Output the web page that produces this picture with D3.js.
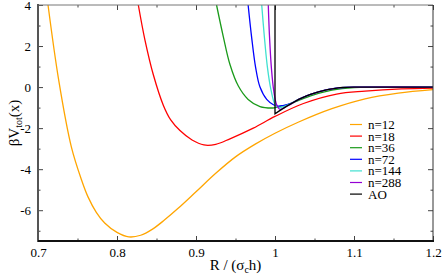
<!DOCTYPE html>
<html>
<head>
<meta charset="utf-8">
<script src="https://cdnjs.cloudflare.com/ajax/libs/d3/7.8.5/d3.min.js"></script>
<style>
  body { margin: 0; background: #fff; }
  svg { display: block; }
  svg text { font-family: "Liberation Serif", "Times New Roman", "DejaVu Serif", serif; fill: #000; }
  .tick text { font-size: 13px; }
  .label { font-size: 15px; }
  .legend text { font-size: 13px; }
</style>
</head>
<body>
<svg width="443" height="277"></svg>
<script>
// series: [R, beta V]
var n12 = [[0.7127,4],[0.7262,0.34],[0.7422,-2.91],[0.7549,-4.5],[0.7633,-5.35],[0.7738,-6.1],
  [0.7844,-6.62],[0.80,-7.08],[0.815,-7.30],[0.83,-7.22],[0.845,-6.92],[0.86,-6.48],[0.877,-5.92],
  [0.90,-5.1],[0.925,-4.2],[0.95,-3.4],[0.975,-2.78],[1.0,-2.25],[1.03,-1.7],[1.072,-1.05],
  [1.114,-0.57],[1.156,-0.29],[1.2,-0.12]];
var n18 = [[0.827,4],[0.8354,2.29],[0.846,0.6],[0.8586,-0.88],[0.868,-1.6],[0.8797,-2.12],
  [0.895,-2.58],[0.91,-2.82],[0.925,-2.79],[0.943,-2.52],[0.9725,-2.0],[1.0,-1.43],
  [1.036,-0.8],[1.078,-0.34],[1.114,-0.2],[1.16,-0.09],[1.2,-0.05]];
var n36 = [[0.926,4],[0.9346,2.45],[0.943,1.1],[0.9536,0.05],[0.966,-0.6],[0.981,-0.95],
  [0.996,-1.02],[1.0,-1.0],[1.01,-0.92],[1.02,-0.8],[1.03,-0.65],[1.04,-0.5],[1.05,-0.37],
  [1.06,-0.26],[1.072,-0.15],[1.085,-0.07],[1.1,-0.02],[1.12,0],[1.2,0]];
var n72 = [[0.966,4],[0.9705,2.4],[0.9755,0.95],[0.981,0.0],[0.9895,-0.6],[0.998,-0.86],
  [1.004,-0.93],[1.01,-0.9],[1.02,-0.79],[1.03,-0.6],[1.04,-0.43],[1.05,-0.29],[1.06,-0.18],
  [1.07,-0.1],[1.08,-0.04],[1.09,-0.01],[1.1,0],[1.2,0]];
var n144 = [[0.9832,4],[0.9862,2.6],[0.9903,1.0],[0.995,-0.15],[1.0,-0.85],[1.004,-0.99],
  [1.01,-0.96],[1.02,-0.81],[1.03,-0.6],[1.04,-0.43],[1.05,-0.29],[1.06,-0.18],[1.07,-0.1],
  [1.08,-0.04],[1.09,-0.01],[1.1,0],[1.2,0]];
var n288 = [[0.9915,4],[0.993,2.5],[0.9955,0.9],[0.9985,-0.2],[1.002,-0.85],[1.006,-1.08],
  [1.012,-1.0],[1.02,-0.83],[1.03,-0.6],[1.04,-0.43],[1.05,-0.29],[1.06,-0.18],[1.07,-0.1],
  [1.08,-0.04],[1.09,-0.01],[1.1,0],[1.2,0]];
var ao = [[1.0,4],[1.0,-1.3],[1.005,-1.17],[1.01,-1.05],[1.015,-0.93],[1.02,-0.82],[1.025,-0.71],
  [1.03,-0.6],[1.035,-0.51],[1.04,-0.43],[1.045,-0.36],[1.05,-0.29],[1.055,-0.23],[1.06,-0.18],
  [1.065,-0.14],[1.07,-0.1],[1.075,-0.07],[1.08,-0.04],[1.085,-0.02],[1.09,-0.01],[1.1,0],[1.2,0]];

var names  = ["n=12", "n=18", "n=36", "n=72", "n=144", "n=288", "AO"];
var colors = ["#ffa500", "#ff0000", "#1a9a1a", "#0000ff", "#40e0d0", "#9400d3", "#000000"];
var series = [n12, n18, n36, n72, n144, n288, ao];

var xTicks = [0.7, 0.8, 0.9, 1, 1.1, 1.2];
var yTicks = [-6, -4, -2, 0, 2, 4];

var svg = d3.select("svg");
var pL = 38, pR = 433, pT = 5, pB = 241;

var x = d3.scaleLinear().domain([0.7, 1.2]).range([pL, pR]);
var y = d3.scaleLinear().domain([-7.5, 4]).range([pB, pT]);

svg.append("clipPath").attr("id", "clip")
  .append("rect").attr("x", pL).attr("y", pT - 2)
  .attr("width", pR - pL).attr("height", pB - pT + 2);

// minor + major ticks, all pointing inward
function axes(g, axisFn, sc, major, minor, tr, fmt) {
  g.append("g").attr("transform", tr)
    .call(axisFn(sc).tickValues(minor).tickSize(-2.5).tickSizeOuter(0).tickFormat(""))
    .call(a => a.select(".domain").remove());
  g.append("g").attr("transform", tr)
    .call(axisFn(sc).tickValues(major).tickSize(-5).tickSizeOuter(0).tickPadding(7)
      .tickFormat(fmt || ""))
    .call(a => a.select(".domain").remove());
}
var xMinor = d3.range(0.75, 1.2, 0.1);
var yMinor = d3.range(-7, 4, 2);
var g = svg.append("g");
axes(g, d3.axisBottom, x, xTicks, xMinor, "translate(0," + pB + ")", d => d);
axes(g, d3.axisTop, x, xTicks, xMinor, "translate(0," + pT + ")");
axes(g, d3.axisLeft, y, yTicks, yMinor, "translate(" + pL + ",0)", d => d);
axes(g, d3.axisRight, y, yTicks, yMinor, "translate(" + pR + ",0)");
g.selectAll("g").attr("font-family", null);
g.selectAll(".tick line").attr("stroke", "#444");

var line = d3.line().x(d => x(d[0])).y(d => y(d[1])).curve(d3.curveCatmullRom.alpha(0.5));
var lineAO = d3.line().x(d => x(d[0])).y(d => y(d[1]));

svg.append("g").attr("clip-path", "url(#clip)")
  .selectAll("path").data(series).join("path")
  .attr("d", (d, i) => i == 6 ? lineAO(d) : line(d))
  .attr("fill", "none")
  .attr("stroke", (d, i) => colors[i])
  .attr("stroke-width", 1.3);

// frame
svg.append("line").attr("x1", pL).attr("x2", pR).attr("y1", pT).attr("y2", pT)
  .attr("stroke", "#777").attr("stroke-width", 1);
svg.append("line").attr("x1", pR).attr("x2", pR).attr("y1", pT).attr("y2", pB)
  .attr("stroke", "#333").attr("stroke-width", 1);
svg.append("line").attr("x1", pL).attr("x2", pL).attr("y1", pT - 1).attr("y2", pB + 1)
  .attr("stroke", "#555").attr("stroke-width", 2);
svg.append("line").attr("x1", pL).attr("x2", pR + 1).attr("y1", pB).attr("y2", pB)
  .attr("stroke", "#111").attr("stroke-width", 2);

// legend
var leg = svg.append("g").attr("class", "legend");
names.forEach(function (nm, i) {
  var ly = 124.5 + i * 11.6;
  leg.append("line").attr("x1", 350).attr("x2", 362).attr("y1", ly).attr("y2", ly)
    .attr("stroke", colors[i]).attr("stroke-width", 1.2);
  leg.append("text").attr("x", 368).attr("y", ly + 4.5).text(nm);
});

// axis titles
var xt = svg.append("text").attr("class", "label").attr("x", (pL + pR) / 2)
  .attr("y", 270).attr("text-anchor", "middle");
xt.append("tspan").text("R / (σ");
xt.append("tspan").attr("font-size", "10px").attr("dy", 3).text("c");
xt.append("tspan").attr("dy", -3).text("h)");

var yt = svg.append("text").attr("class", "label")
  .attr("transform", "translate(19," + ((pT + pB) / 2) + ") rotate(-90)")
  .attr("text-anchor", "middle");
yt.append("tspan").text("βV");
yt.append("tspan").attr("font-size", "10px").attr("dy", 3).text("tot");
yt.append("tspan").attr("dy", -3).text("(x)");
</script>
</body>
</html>
